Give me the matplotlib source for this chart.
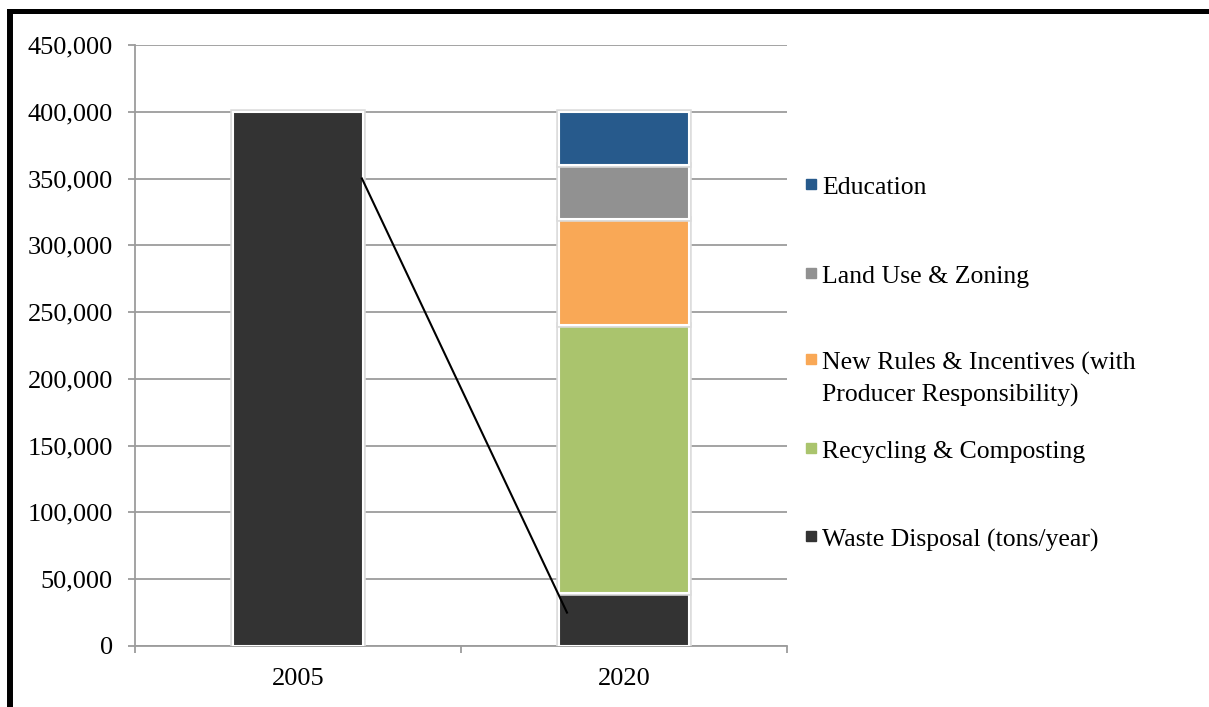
import matplotlib
matplotlib.use("Agg")
import matplotlib.pyplot as plt
import matplotlib.patheffects as pe
from matplotlib.lines import Line2D
from matplotlib.patches import Rectangle
from matplotlib.ticker import FuncFormatter, FixedLocator

plt.rcParams['font.family'] = ['Liberation Serif', 'DejaVu Serif']

# data
years = ['2005', '2020']
series = ['Waste Disposal (tons/year)', 'Recycling & Composting',
          'New Rules & Incentives (with\nProducer Responsibility)',
          'Land Use & Zoning', 'Education']
values = {
    'Waste Disposal (tons/year)': [400000, 40000],
    'Recycling & Composting': [0, 200000],
    'New Rules & Incentives (with\nProducer Responsibility)': [0, 80000],
    'Land Use & Zoning': [0, 40000],
    'Education': [0, 40000],
}
colors = ['#333333', '#aac46d', '#f9a856', '#919191', '#275a8c']
# hand-drawn arrow line in the original
line_x = [0.196, 0.825]
line_y = [350000, 25000]

fig = plt.figure(figsize=(12.09, 7.07), dpi=100)
ax = fig.add_axes([0.1117, 0.0863, 0.5393, 0.8501])

bottoms = [0, 0]
for name, col in zip(series, colors):
    vals = values[name]
    bars = ax.bar(range(len(years)), vals, bottom=bottoms, width=0.4, color=col,
                  edgecolor='white', linewidth=1.5, zorder=3)
    for b, v in zip(bars, vals):
        if v == 0:
            b.set_visible(False)
        b.set_path_effects([pe.Stroke(linewidth=4, foreground='#dcdcdc'), pe.Normal()])
    bottoms = [b + v for b, v in zip(bottoms, vals)]

ax.plot(line_x, line_y, color='black', lw=1.5, zorder=5)

ax.set_xlim(-0.5, 1.5)
ax.set_ylim(0, 450000)
ax.set_yticks(range(0, 450001, 50000))
ax.yaxis.set_major_formatter(FuncFormatter(lambda v, p: f'{int(v):,}'))
ax.set_xticks(range(len(years)))
ax.set_xticklabels(years)
ax.xaxis.set_minor_locator(FixedLocator([-0.5, 0.5, 1.5]))

ax.grid(axis='y', color='#9c9c9c', lw=1.3, zorder=0)
ax.set_axisbelow(True)
for s in ['top', 'right']:
    ax.spines[s].set_visible(False)
for s in ['left', 'bottom']:
    ax.spines[s].set_color('#9c9c9c')
    ax.spines[s].set_linewidth(1.3)

ax.tick_params(axis='y', length=5, width=1.3, color='#9c9c9c', pad=11, labelsize=19)
ax.tick_params(axis='x', which='major', length=0, pad=16, labelsize=19)
ax.tick_params(axis='x', which='minor', length=5, width=1.3, color='#9c9c9c')

# legend, drawn by hand to get Excel-style spacing
leg_y = [188, 277, 363, 452, 540]
for name, col, yp in zip(series[::-1], colors[::-1], leg_y):
    yf = 1 - yp / 707
    fig.patches.append(Rectangle((806 / 1209, yf - 1 / 707), 10 / 1209, 10 / 707,
                                 transform=fig.transFigure, color=col))
    lines = name.split('\n')
    for k, t in enumerate(lines):
        fig.text(822 / 1209, yf - k * 32 / 707, t, fontsize=18.5, va='center', ha='left')

# black frame on the left and top
fig.add_artist(Line2D([10 / 1209, 10 / 1209], [0, 1 - 9 / 707], transform=fig.transFigure,
                      color='black', lw=4.3, solid_capstyle='butt'))
fig.add_artist(Line2D([7 / 1209, 1], [1 - 11 / 707, 1 - 11 / 707], transform=fig.transFigure,
                      color='black', lw=3.6, solid_capstyle='butt'))

fig.savefig('out.png', dpi=100)
